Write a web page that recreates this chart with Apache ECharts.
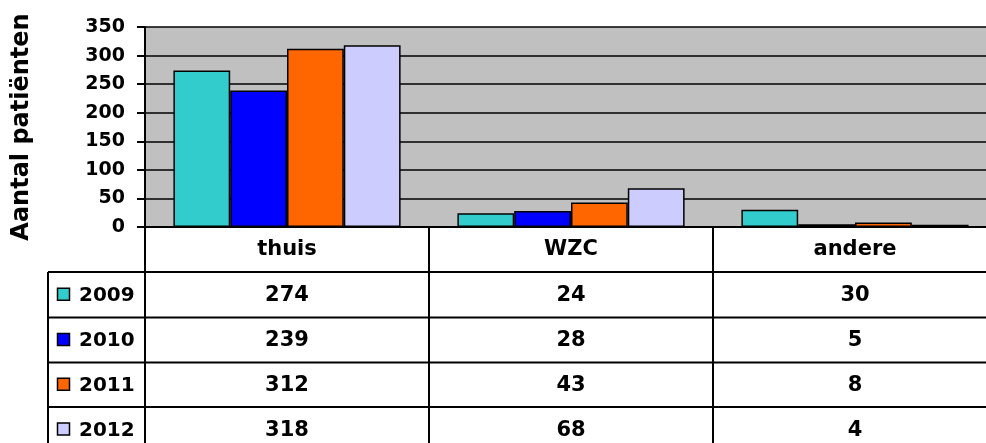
<!DOCTYPE html>
<html>
<head>
<meta charset="utf-8">
<script src="https://cdn.jsdelivr.net/npm/echarts@6/dist/echarts.min.js"></script>
<style>html,body{margin:0;padding:0;background:#fff;overflow:hidden;width:986px;height:443px;}#c{width:997px;height:443px;}</style>
</head>
<body>
<div id="c"></div>
<script>
const categories = ['thuis', 'WZC', 'andere'];
const years = ['2009', '2010', '2011', '2012'];
const v2009 = [274, 24, 30];
const v2010 = [239, 28, 5];
const v2011 = [312, 43, 8];
const v2012 = [318, 68, 4];
const yTicks = [0, 50, 100, 150, 200, 250, 300, 350];
const colors = ['#33CCCC', '#0000FF', '#FF6600', '#CCCCFF'];
const seriesValues = [v2009, v2010, v2011, v2012];

const FONT = 'DejaVu Sans';
const chart = echarts.init(document.getElementById('c'), null, {renderer: 'canvas'});

const gridLeft = 145, gridTop = 27, gridBottomY = 227;
const rowLines = [272, 317.5, 362.5, 407, 452];

chart.setOption({
  animation: false,
  backgroundColor: '#ffffff',
  grid: {left: gridLeft, top: gridTop, right: 0, height: gridBottomY - gridTop,
         show: true, backgroundColor: '#C0C0C0', borderWidth: 0},
  xAxis: {
    type: 'category', data: categories,
    axisLine: {lineStyle: {color: '#000', width: 2}},
    axisTick: {show: true, length: 240, lineStyle: {color: '#000', width: 2}},
    axisLabel: {color: '#000', fontFamily: FONT, fontWeight: 'bold', fontSize: 21, margin: 12}
  },
  yAxis: {
    type: 'value', min: yTicks[0], max: yTicks[yTicks.length - 1], interval: 50,
    name: 'Aantal patiënten', nameLocation: 'middle', nameGap: 111,
    nameTextStyle: {color: '#000', fontFamily: FONT, fontWeight: 'bold', fontSize: 24},
    axisLine: {show: true, lineStyle: {color: '#000', width: 2}},
    axisTick: {show: true, length: 8, lineStyle: {color: '#000', width: 2}},
    axisLabel: {color: '#000', fontFamily: FONT, fontWeight: 'bold', fontSize: 19, margin: 20},
    splitLine: {show: true, lineStyle: {color: '#000', width: 1.5}}
  },
  series: years.map((y, i) => ({
    name: y, type: 'bar', data: seriesValues[i],
    barGap: '0%', barCategoryGap: '20%',
    itemStyle: {color: colors[i], borderColor: '#000', borderWidth: 1.5}
  }))
});

// Data table below the chart, built from the data arrays and axis positions
const g = [];
const tableLeft = 48, tableRight = 997;
rowLines.forEach((y) => {
  g.push({type: 'line', shape: {x1: tableLeft, y1: y, x2: tableRight, y2: y},
          style: {stroke: '#000', lineWidth: 2}, z: 100});
});
g.push({type: 'line', shape: {x1: tableLeft, y1: rowLines[0], x2: tableLeft, y2: 443},
        style: {stroke: '#000', lineWidth: 2}, z: 100});
years.forEach((y, i) => {
  const cy = (rowLines[i] + rowLines[i + 1]) / 2;
  g.push({type: 'rect', shape: {x: 57.5, y: cy - 6.5, width: 12, height: 12},
          style: {fill: colors[i], stroke: '#000', lineWidth: 1.5}, z: 100});
  g.push({type: 'text', x: 79, y: cy + 1,
          style: {text: y, fill: '#000', font: 'bold 20px "' + FONT + '"',
                  textAlign: 'left', textVerticalAlign: 'middle'}, z: 100});
  categories.forEach((c, j) => {
    const px = chart.convertToPixel({xAxisIndex: 0}, c);
    g.push({type: 'text', x: px, y: cy + 1,
            style: {text: String(seriesValues[i][j]), fill: '#000',
                    font: 'bold 21px "' + FONT + '"',
                    textAlign: 'center', textVerticalAlign: 'middle'}, z: 100});
  });
});
chart.setOption({graphic: g});
</script>
</body>
</html>
